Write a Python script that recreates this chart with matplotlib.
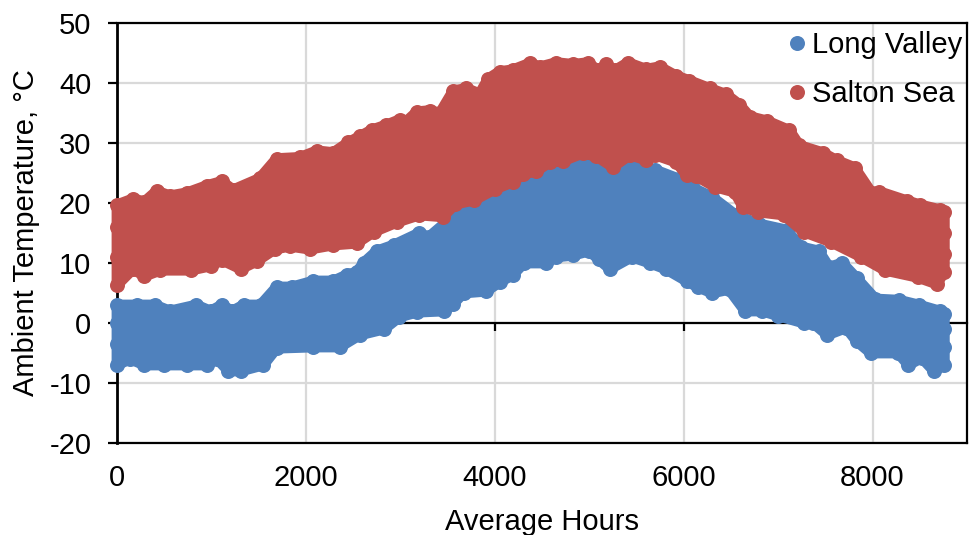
import matplotlib
matplotlib.use("Agg")
import matplotlib.pyplot as plt
import numpy as np

plt.rcParams['font.family'] = ['Liberation Sans', 'DejaVu Sans']
plt.rcParams['axes.unicode_minus'] = False

sea_high_h = [0,170,290,420,560,740,950,1110,1230,1510,1690,1936,2116,2290,2450,2570,2700,2850,2995,3050,3175,3310,3420,3560,3700,3840,3930,4050,4190,4370,4480,4650,4830,4985,5095,5180,5270,5410,5600,5745,5920,6060,6275,6450,6590,6700,6880,7120,7225,7470,7620,7810,7990,8070,8360,8500,8710,8760,8760,8760]
sea_high_t = [19.7,20.7,20.2,22,21.2,21.7,22.9,23.6,22.2,24.1,27.4,27.6,28.7,28.4,30.1,31.1,32.2,33.0,33.9,33.4,35.2,35.4,35,38.7,39.1,38.2,40.7,41.9,42.2,43.3,42.7,43.4,43.1,43.4,42.1,43.1,42.1,43.4,42.3,42.7,41.2,40.4,39.1,38.1,36.4,34.4,33.7,32.1,29.6,28.4,27.1,25.9,21.7,21.9,20.4,19.7,18.9,18.5,15,11.5]
sea_low_h = [0,0,0,170,290,460,780,990,1110,1310,1480,1670,1830,2040,2290,2540,2720,2965,3200,3450,3580,3785,4000,4190,4300,4440,4580,4720,4930,5075,5250,5430,5600,5700,5920,6030,6130,6330,6540,6630,6790,7060,7270,7560,7880,8130,8480,8680,8760]
sea_low_t = [16,11,6.3,9,7.8,8.8,8.8,9.5,10.5,9,10.3,12.3,12.8,12.3,13,13.3,15.2,16.8,18,17.7,19.8,20.5,22.3,23.5,24.8,25.3,26.8,27,28.3,27.8,26,28,27.2,28,26.8,24.7,24.5,22.7,21.8,19.3,18.5,18,15.2,13.5,11,8.8,7.6,6.5,8.5]

valley_high_h = [0,210,400,560,840,990,1110,1220,1340,1520,1690,1850,2080,2290,2430,2540,2610,2750,2930,3200,3300,3500,3700,3900,4100,4300,4500,4750,4950,5200,5450,5700,5950,6100,6300,6550,6800,7090,7240,7430,7540,7680,7830,8030,8280,8490,8710,8760,8760,8760]
valley_high_t = [3,3,3,2,3,2,3,2,3,3,6,6,7,7,8,8.5,10,12,13,15,14.3,17,19,21,23,24.5,25,26,26.5,25,26,25.5,24,22.5,21,18,16.5,15.5,12.7,12,9.3,10,7.5,4,3.8,3,2,1.5,-1,-4]
valley_low_h = [0,0,0,140,290,500,740,950,1060,1180,1310,1550,1690,2080,2360,2570,2830,2990,3175,3460,3560,3670,3910,4050,4190,4310,4540,4650,4830,5000,5100,5220,5450,5640,5810,6030,6150,6300,6480,6650,6830,7000,7270,7370,7520,7720,7830,7980,8270,8380,8520,8650,8760]
valley_low_t = [0,-3.5,-7,-6,-7,-7,-7,-7,-6,-8,-8,-7,-4.2,-4,-4,-2,-1,1,1.8,2,3.2,5,5.3,6.8,8,10,10,11,11.3,12,10.6,9,11,10,9,7,6,5,5.6,2,2,1.2,0,0,-2,-0.8,-3,-5,-5,-7,-5.8,-8,-7]

x_ticks = [0, 2000, 4000, 6000, 8000]
y_ticks = [-20, -10, 0, 10, 20, 30, 40, 50]
BLUE, RED = '#4F81BD', '#C0504D'
MS = 10.8

fig = plt.figure(figsize=(9.69, 5.35), dpi=100)
ax = fig.add_axes([117/969, 1-443/535, 850/969, 420/535])
ax.set_xlim(0, 9000)
ax.set_ylim(-20, 50)
ax.set_axisbelow(True)
ax.grid(True, color='#D9D9D9', lw=1.6)
ax.set_xticks(x_ticks)
ax.set_yticks(y_ticks)
ax.tick_params(axis='x', length=0, labelsize=21, pad=15)
ax.tick_params(axis='y', length=6.5, width=1.6, labelsize=21, pad=12)
for s, lw in (('left', 2.0), ('bottom', 1.6), ('top', 1.6), ('right', 1.6)):
    ax.spines[s].set_linewidth(lw)

sec = ax.secondary_xaxis(2/7)
sec.set_xticks(x_ticks)
sec.tick_params(axis='x', direction='out', length=6, width=1.6, labelbottom=False, labeltop=False)
sec.spines['bottom'].set_linewidth(1.6)
sec.set_zorder(1)


def band(hi_h, hi_t, lo_h, lo_t, color, label, z):
    ax.fill(list(hi_h) + list(lo_h)[::-1], list(hi_t) + list(lo_t)[::-1], facecolor=color,
            edgecolor=color, lw=MS * 0.72, joinstyle='round', clip_on=False, zorder=z)
    ax.plot(hi_h, hi_t, 'o', ms=MS, mew=0, color=color, clip_on=False, zorder=z)
    ax.plot(lo_h, lo_t, 'o', ms=MS, mew=0, color=color, clip_on=False, zorder=z, label=label)


band(valley_high_h, valley_high_t, valley_low_h, valley_low_t, BLUE, 'Long Valley', 3)
band(sea_high_h, sea_high_t, sea_low_h, sea_low_t, RED, 'Salton Sea', 3.1)

ax.set_xlabel('Average Hours', fontsize=21, labelpad=11.5)
ax.set_ylabel('Ambient Temperature, °C', fontsize=21, labelpad=7)
ax.legend(loc='upper left', bbox_to_anchor=((777-117)/850, (443-25)/420), frameon=False,
          fontsize=21, handletextpad=0.0, handlelength=1.0, labelspacing=0.72,
          borderpad=0.2, borderaxespad=0, markerscale=1.0).set_zorder(5)

fig.savefig('out.png', dpi=100)
